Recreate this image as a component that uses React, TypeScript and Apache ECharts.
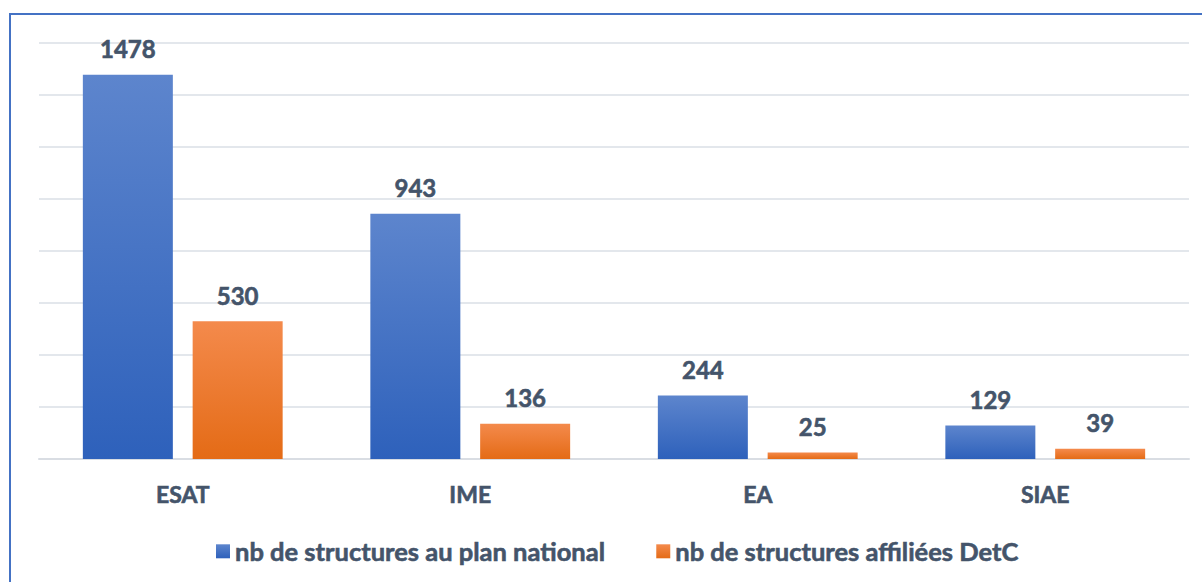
import React, { useEffect, useRef } from "react";
import * as echarts from "echarts";

const categories = ["ESAT", "IME", "EA", "SIAE"];
const nationalValues = [1478, 943, 244, 129];
const detcValues = [530, 136, 25, 39];
const seriesNames = ["nb de structures au plan national", "nb de structures affiliées DetC"];

const textColor = "#44546a";
const font = "Lato";
const weight = "bold";
const thicken = { textBorderColor: textColor, textBorderWidth: 0.6 };

export default function App() {
  const ref = useRef<HTMLDivElement>(null);
  useEffect(() => {
    document.body.style.margin = "0";
    const chart = echarts.init(ref.current!, null, { renderer: "svg" });
    const blue = new echarts.graphic.LinearGradient(0, 0, 0, 1, [
      { offset: 0, color: "#5d85cd" },
      { offset: 1, color: "#2e61bb" },
    ]);
    const orange = new echarts.graphic.LinearGradient(0, 0, 0, 1, [
      { offset: 0, color: "#f48a4c" },
      { offset: 1, color: "#e46b16" },
    ]);
    const label = {
      show: true,
      position: "top",
      distance: 14,
      color: textColor,
      fontFamily: font,
      fontWeight: weight,
      fontSize: 24,
      ...thicken,
    };
    chart.setOption({
      animation: false,
      backgroundColor: "#ffffff",
      graphic: [
        {
          type: "rect",
          shape: { x: 10, y: 14, width: 1200, height: 580 },
          style: { fill: "none", stroke: "#4472c4", lineWidth: 2 },
          silent: true,
        },
      ],
      grid: { left: 39, right: 13, top: 43, bottom: 123 },
      legend: {
        left: 211,
        top: 533,
        itemWidth: 14,
        itemHeight: 14,
        itemGap: 51,
        icon: "rect",
        textStyle: { color: textColor, fontFamily: font, fontWeight: weight, fontSize: 25.5, ...thicken },
        data: seriesNames,
      },
      xAxis: {
        type: "category",
        data: categories,
        axisLine: { lineStyle: { color: "#d9dde3", width: 2 } },
        axisTick: { show: false },
        axisLabel: { color: textColor, fontFamily: font, fontWeight: weight, fontSize: 23, margin: 23, ...thicken },
      },
      yAxis: {
        type: "value",
        min: 0,
        max: 1600,
        interval: 200,
        axisLabel: { show: false },
        axisLine: { show: false },
        axisTick: { show: false },
        splitLine: { lineStyle: { color: "#e3e7ec", width: 2 } },
      },
      series: [
        {
          name: seriesNames[0],
          type: "bar",
          data: nationalValues,
          barWidth: 90,
          barGap: "22%",
          itemStyle: { color: blue },
          label,
        },
        {
          name: seriesNames[1],
          type: "bar",
          data: detcValues,
          barWidth: 90,
          barGap: "22%",
          itemStyle: { color: orange },
          label,
        },
      ],
    });
    return () => chart.dispose();
  }, []);
  return <div ref={ref} style={{ width: 1202, height: 582 }} />;
}
